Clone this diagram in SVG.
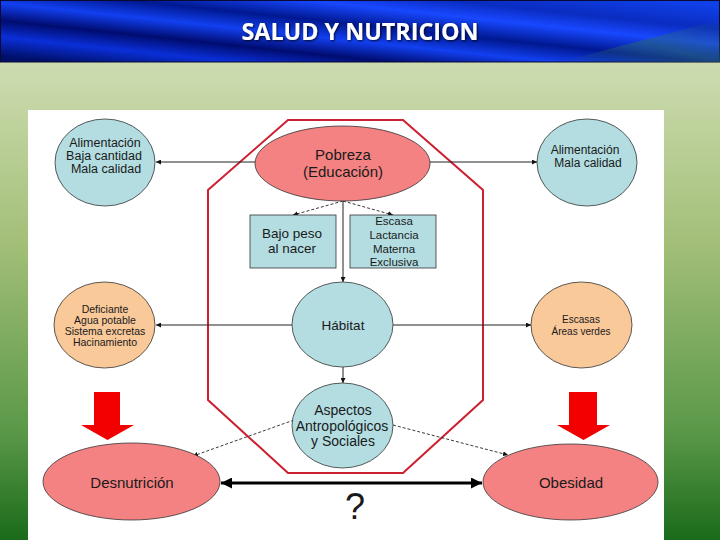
<svg xmlns="http://www.w3.org/2000/svg" width="720" height="540" viewBox="0 0 720 540">
<defs>
<linearGradient id="bg" x1="0" y1="0" x2="0" y2="1">
<stop offset="0" stop-color="#d4e3bf"/>
<stop offset="0.12" stop-color="#cddcb0"/>
<stop offset="0.45" stop-color="#a3bf78"/>
<stop offset="0.8" stop-color="#5a9848"/>
<stop offset="1" stop-color="#1a6b1a"/>
</linearGradient>
<linearGradient id="bar" x1="0" y1="0.9" x2="1" y2="0.1">
<stop offset="0" stop-color="#00106a"/>
<stop offset="0.15" stop-color="#0a2fd8"/>
<stop offset="0.28" stop-color="#000c70"/>
<stop offset="0.42" stop-color="#1240f0"/>
<stop offset="0.55" stop-color="#001890"/>
<stop offset="0.7" stop-color="#1848ff"/>
<stop offset="0.82" stop-color="#0a2cc0"/>
<stop offset="1" stop-color="#1040e8"/>
</linearGradient>
<linearGradient id="teal" x1="0" y1="1" x2="1" y2="0">
<stop offset="0" stop-color="#2a6a70" stop-opacity="0"/>
<stop offset="0.5" stop-color="#2a6a70" stop-opacity="0.8"/>
<stop offset="1" stop-color="#2a6a70" stop-opacity="0"/>
</linearGradient>
<marker id="ah" viewBox="0 0 10 10" refX="10" refY="5" markerWidth="5" markerHeight="5" markerUnits="userSpaceOnUse" orient="auto">
<path d="M0,0 L10,5 L0,10 z" fill="#111"/>
</marker>
<marker id="big" viewBox="0 0 10 10" refX="10" refY="5" markerWidth="11" markerHeight="11" markerUnits="userSpaceOnUse" orient="auto-start-reverse">
<path d="M0,0 L10,5 L0,10 z" fill="#000"/>
</marker>
<filter id="sh" x="-5%" y="-20%" width="110%" height="140%">
<feDropShadow dx="1" dy="1" stdDeviation="0.8" flood-color="#000" flood-opacity="0.8"/>
</filter>
</defs>
<style>
.t{font-family:"Liberation Sans",Arial,sans-serif;fill:#1a1a1a;text-anchor:middle}
.el{stroke:#333;stroke-width:0.8}
.pink{fill:#f58282}
.blue{fill:#b3dde1}
.peach{fill:#f9c99a}
.ln{stroke:#222;stroke-width:1;fill:none}
.dash{stroke:#222;stroke-width:0.9;fill:none;stroke-dasharray:3 2}
.bigarrow{fill:#f20000}
</style>

<rect x="0" y="0" width="720" height="540" fill="url(#bg)"/>
<rect x="0.5" y="0.5" width="719" height="61.5" fill="url(#bar)" stroke="#0a0a30" stroke-width="1"/>
<polygon points="560,62 720,20 720,62" fill="url(#teal)" opacity="0.7"/>
<text x="360" y="40" font-family="'Open Sans','Liberation Sans',sans-serif" font-weight="bold" font-size="24" fill="#fff" text-anchor="middle" textLength="237" lengthAdjust="spacingAndGlyphs" filter="url(#sh)">SALUD Y NUTRICION</text>

<rect x="28" y="110" width="636" height="430" fill="#ffffff"/>

<polygon id="marco" points="288,120 403,120 483,190 483,400 403,473 288,473 208,400 208,190" fill="none" stroke="#cc2030" stroke-width="2"/>

<g id="connectors">
<line class="ln" x1="256" y1="162" x2="156" y2="162" marker-end="url(#ah)"/>
<line class="ln" x1="430" y1="162" x2="537" y2="162" marker-end="url(#ah)"/>
<line class="ln" x1="343" y1="201" x2="343" y2="282" marker-end="url(#ah)"/>
<line class="dash" x1="343" y1="201" x2="293" y2="215" marker-end="url(#ah)"/>
<line class="dash" x1="343" y1="201" x2="393" y2="215" marker-end="url(#ah)"/>
<line class="ln" x1="292" y1="325" x2="156" y2="325" marker-end="url(#ah)"/>
<line class="ln" x1="393" y1="325" x2="531" y2="325" marker-end="url(#ah)"/>
<line class="ln" x1="343" y1="367" x2="343" y2="383" marker-end="url(#ah)"/>
<line class="dash" x1="294" y1="420" x2="193" y2="456" marker-end="url(#ah)"/>
<line class="dash" x1="393" y1="425" x2="508" y2="455" marker-end="url(#ah)"/>
<line x1="221" y1="483" x2="482" y2="483" stroke="#000" stroke-width="3" marker-start="url(#big)" marker-end="url(#big)"/>
</g>

<g id="pobreza">
<ellipse class="el pink" cx="342.5" cy="163.5" rx="87.5" ry="37.5"/>
<text class="t" x="343" y="160" font-size="15">Pobreza</text>
<text class="t" x="343" y="177" font-size="15">(Educación)</text>
</g>

<g id="bajo-peso">
<rect class="el blue" x="250" y="215" width="86" height="53"/>
<text class="t" x="292" y="238" font-size="13.5">Bajo peso</text>
<text class="t" x="292" y="253" font-size="13.5">al nacer</text>
</g>

<g id="lactancia">
<rect class="el blue" x="350" y="215" width="86" height="53"/>
<text class="t" x="394" y="225" font-size="11.5">Escasa</text>
<text class="t" x="394" y="239" font-size="11.5">Lactancia</text>
<text class="t" x="394" y="253" font-size="11.5">Materna</text>
<text class="t" x="394" y="266" font-size="11.5">Exclusiva</text>
</g>

<g id="alim-izq">
<ellipse class="el blue" cx="105" cy="162.5" rx="50" ry="43.5"/>
<text class="t" x="105" y="147" font-size="12.5">Alimentación</text>
<text class="t" x="104" y="160" font-size="12.5">Baja cantidad</text>
<text class="t" x="106" y="173" font-size="12.5">Mala calidad</text>
</g>

<g id="alim-der">
<ellipse class="el blue" cx="587" cy="162.5" rx="50" ry="43.5"/>
<text class="t" x="585" y="154" font-size="12">Alimentación</text>
<text class="t" x="588" y="167" font-size="12">Mala calidad</text>
</g>

<g id="habitat">
<ellipse class="el blue" cx="342.5" cy="324.5" rx="50.5" ry="42.5"/>
<text class="t" x="343" y="330" font-size="13.5">Hábitat</text>
</g>

<g id="deficiente">
<ellipse class="el peach" cx="104.5" cy="325" rx="50.5" ry="43"/>
<text class="t" x="105" y="313" font-size="10.5">Deficiante</text>
<text class="t" x="105" y="324" font-size="10.5">Agua potable</text>
<text class="t" x="105" y="335" font-size="10.5">Sistema excretas</text>
<text class="t" x="105" y="346" font-size="10.5">Hacinamiento</text>
</g>

<g id="areas-verdes">
<ellipse class="el peach" cx="581.5" cy="325" rx="50.5" ry="43"/>
<text class="t" x="581" y="323" font-size="10">Escasas</text>
<text class="t" x="581" y="335" font-size="10">Áreas verdes</text>
</g>

<g id="aspectos">
<ellipse class="el blue" cx="342.5" cy="425.5" rx="50.5" ry="42.5"/>
<text class="t" x="343" y="415" font-size="14">Aspectos</text>
<text class="t" x="342" y="431" font-size="14">Antropológicos</text>
<text class="t" x="343" y="446" font-size="14">y Sociales</text>
</g>

<g id="flecha-izq">
<polygon class="bigarrow" points="94,392 120,392 120,425 134,425 107.5,440 81,425 94,425"/>
</g>
<g id="flecha-der">
<polygon class="bigarrow" points="569,392 597,392 597,425 610,425 583.5,440 557,425 569,425"/>
</g>

<g id="desnutricion">
<ellipse class="el pink" cx="131.5" cy="481.5" rx="88.5" ry="38.5"/>
<text class="t" x="132" y="488" font-size="15">Desnutrición</text>
</g>

<g id="obesidad">
<ellipse class="el pink" cx="570.5" cy="482" rx="87.5" ry="38"/>
<text class="t" x="571" y="488" font-size="15">Obesidad</text>
</g>

<text class="t" x="355" y="519" font-size="36" fill="#111">?</text>
</svg>
